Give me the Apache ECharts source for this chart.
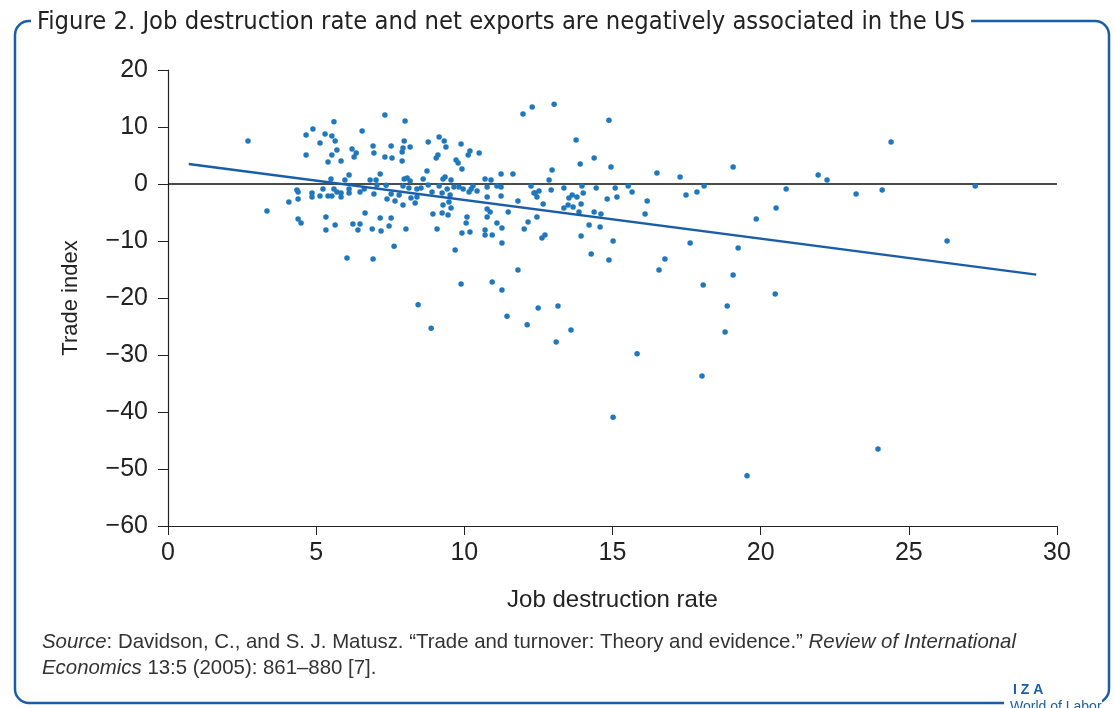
<!DOCTYPE html>
<html lang="en">
<head>
    <meta charset="UTF-8">
    <title>Job destruction rate and net exports</title>
    <script src="https://cdn.jsdelivr.net/npm/echarts@6/dist/echarts.min.js"></script>
    <style>
        html, body { margin: 0; padding: 0; background: #fff; }
    </style>
</head>
<body>
<div id="main" style="width: 1115px;height:708px;"></div>
<script type="text/javascript">
    // job destruction rate (x) and trade index (y)
    var jobRate = [
        2.70, 7.32, 4.89, 5.60, 4.66, 5.30, 5.53, 5.64, 5.13, 6.55,
        4.66, 5.53, 5.70, 5.40, 5.84, 6.21, 6.35, 6.28, 6.92, 6.95,
        7.32, 6.11, 5.97, 5.50, 6.82, 7.02, 7.16, 7.05, 7.36, 4.35,
        4.39, 4.86, 4.86, 5.23, 5.13, 5.40, 5.53, 5.60, 5.70, 5.84,
        5.84, 6.11, 6.11, 6.48, 6.62, 6.95, 7.39, 4.39, 4.08, 3.34,
        4.39, 5.33, 6.65, 7.16,
        8.00, 11.98, 12.29, 7.53, 7.97, 8.17, 7.93, 7.90, 7.56, 7.90,
        8.78, 9.15, 9.32, 9.38, 9.11, 9.05, 9.89, 10.19, 10.13, 10.50,
        9.72, 9.79, 9.92, 8.74, 7.97, 8.07, 8.17, 8.61, 9.28, 9.35,
        9.55, 10.70, 10.90, 11.24, 11.64, 7.93, 8.13, 8.40, 8.54, 8.78,
        9.15, 8.91, 9.42, 9.65, 9.82, 9.96, 10.23, 10.29, 10.16, 10.43,
        10.77, 11.10, 11.24, 12.25, 12.35, 12.52, 9.25, 9.52, 7.53, 7.80,
        7.66, 8.20, 8.40, 8.34, 7.93, 9.28, 9.48, 9.55, 10.77, 11.24,
        10.77, 10.87, 11.48, 11.81, 12.45, 8.94, 9.25, 9.45, 10.09, 10.77,
        12.45, 7.53,
        13.03, 14.88, 13.77, 14.38, 13.91, 14.95, 12.96, 12.86, 16.50, 17.28,
        12.39, 12.93, 13.36, 13.97, 14.01, 14.45, 15.09, 15.53, 15.66, 15.15,
        14.82, 13.53, 13.64, 13.80, 12.66, 13.50, 13.67, 13.36, 13.94, 13.87,
        14.38, 14.61, 16.17, 16.10,
        19.07, 21.94, 22.24, 24.40, 17.48, 17.85, 18.09, 20.86, 23.22, 24.10,
        27.24, 20.52, 19.85, 14.58,
        14.21, 13.94, 15.02, 14.28, 14.88, 17.62, 19.24, 16.77, 16.57, 19.07,
        18.06, 20.49, 18.87, 18.80, 15.83, 18.02, 15.02, 23.96, 19.54, 26.29,
        4.49, 5.33, 5.64, 6.24, 6.48, 6.41, 6.89, 7.19, 7.46, 8.03,
        7.63, 6.04, 6.92, 9.08, 9.92, 10.19, 10.06, 10.70, 10.70, 10.94,
        11.10, 11.27, 11.27, 9.69, 12.02, 12.15, 12.72, 12.62, 11.81, 9.89,
        10.94, 11.27, 8.44, 8.88, 11.44, 12.12, 12.49, 13.16, 13.10, 13.60
    ];
    var tradeIndex = [
        7.54, 12.1, 9.65, 10.9, 8.6, 8.77, 8.42, 7.54, 7.19, 9.30,
        5.09, 5.09, 5.96, 3.86, 4.03, 6.14, 5.44, 4.74, 6.67, 5.44,
        4.74, 1.58, 0.70, 0.88, 0.70, 0.70, 1.75, -0.18, -0.2, -1.05,
        -1.40, -1.58, -2.28, -0.88, -2.10, -2.10, -2.10, -0.88, -1.40, -1.58,
        -2.28, -0.88, -1.58, -1.40, -0.88, -1.75, -2.63, -2.63, -3.16, -4.74,
        -6.14, -5.79, -5.09, -5.96,
        11.05, 12.28, 13.5, 6.67, 7.54, 6.49, 6.31, 5.61, 4.56, 4.03,
        7.37, 8.24, 7.54, 6.49, 5.09, 4.56, 7.02, 5.79, 5.09, 5.44,
        4.21, 3.68, 2.63, 2.28, 0.88, 1.05, 0.53, 0.88, 0.88, 1.23,
        0.70, 0.88, 0.70, 1.75, 1.75, -0.35, -0.70, -0.88, -0.70, -0.18,
        -0.35, -1.40, -0.88, -0.53, -0.53, -0.88, -0.88, -0.35, -1.40, -1.23,
        -0.53, -0.35, -0.53, -0.35, -1.58, -1.23, -1.58, -1.93, -1.75, -1.93,
        -2.98, -2.46, -2.28, -3.33, -3.68, -3.68, -3.16, -4.21, -2.28, -2.10,
        -4.39, -4.91, -4.91, -2.98, -2.28, -5.26, -5.09, -5.44, -5.79, -5.79,
        -5.79, -5.96,
        14.0, 11.2, 7.72, 4.56, 3.51, 2.98, 2.46, 0.70, 1.93, 1.23,
        -1.58, -1.05, -0.70, -0.35, -1.58, -0.70, -0.70, -0.35, -1.40, -2.28,
        -2.63, -2.46, -1.93, -2.28, -3.51, -3.68, -4.03, -4.21, -3.51, -4.91,
        -4.91, -5.26, -2.98, -5.26,
        2.98, 1.58, 0.70, 7.37, -1.93, -1.40, -0.35, -0.88, -1.75, -1.05,
        -0.35, -4.21, -6.14, -7.54,
        -7.19, -9.12, -10.0, -12.28, -13.33, -10.35, -11.23, -13.16, -15.08, -15.96,
        -17.72, -19.29, -21.40, -25.96, -29.8, -33.7, -40.9, -46.5, -51.2, -10.0,
        -6.84, -8.07, -7.19, -7.02, -7.02, -8.07, -7.89, -8.24, -7.37, -7.89,
        -10.9, -12.98, -13.16, -7.89, -8.6, -8.42, -6.84, -8.07, -8.95, -8.95,
        -6.84, -7.72, -10.35, -11.58, -7.89, -6.67, -8.95, -9.47, -15.08, -17.54,
        -17.19, -18.6, -21.2, -25.3, -23.2, -24.7, -21.75, -21.4, -27.7, -25.6
    ];
    // fitted line end points and the zero reference line
    var fitX = [0.7, 29.3];
    var fitY = [3.5, -15.9];
    var zeroX = [0, 30];
    var zeroY = [0, 0];

    var xTicks = [0, 5, 10, 15, 20, 25, 30];
    var yTicks = [-60, -50, -40, -30, -20, -10, 0, 10, 20];

    var Chart = echarts.init(document.getElementById('main'));

    function pairs(xs, ys) {
        return xs.map(function (x, i) { return [x, ys[i]]; });
    }
    function minus(v) {
        return String(v).replace('-', '\u2212');
    }

    var textFont = "'Liberation Sans', Arial, sans-serif";
    var narrowFont = "'Liberation Sans Narrow', 'DejaVu Sans Condensed', sans-serif";
    var frameBlue = '#1b5ea8';

    var option = {
        animation: false,
        backgroundColor: '#fff',
        title: {
            text: 'Figure 2. Job destruction rate and net exports are negatively associated in the US',
            left: 31,
            top: 8,
            padding: [2, 6, 2, 6],
            backgroundColor: '#fff',
            textStyle: {
                fontFamily: narrowFont,
                fontSize: 25.3,
                fontWeight: 'normal',
                color: '#222'
            },
            z: 10
        },
        graphic: [
            {
                type: 'rect',
                z: 0,
                shape: { x: 15, y: 21, width: 1094, height: 682, r: 14 },
                style: { fill: 'none', stroke: frameBlue, lineWidth: 2.5 }
            },
            {
                type: 'text',
                left: 42,
                top: 629,
                style: {
                    text: '{i|Source}: Davidson, C., and S. J. Matusz. \u201cTrade and turnover: Theory and evidence.\u201d {i|Review of International}\n{i|Economics} 13:5 (2005): 861\u2013880 [7].',
                    fontFamily: textFont,
                    fontSize: 20.4,
                    lineHeight: 26,
                    fill: '#333',
                    rich: {
                        i: { fontStyle: 'italic', fontFamily: textFont, fontSize: 20.4, fill: '#333' }
                    }
                }
            },
            {
                type: 'rect',
                z: 5,
                shape: { x: 1004, y: 684, width: 98, height: 24 },
                style: { fill: '#fff' }
            },
            {
                type: 'text',
                z: 6,
                left: 1013,
                top: 683,
                style: {
                    text: 'I Z A',
                    fontFamily: textFont,
                    fontSize: 14,
                    fontWeight: 'bold',
                    fill: frameBlue
                }
            },
            {
                type: 'text',
                z: 6,
                left: 1010,
                top: 700,
                style: {
                    text: 'World of Labor',
                    fontFamily: textFont,
                    fontSize: 14,
                    fill: frameBlue
                }
            }
        ],
        grid: {
            left: 168,
            right: 58,
            top: 70,
            bottom: 182
        },
        xAxis: {
            type: 'value',
            min: xTicks[0],
            max: xTicks[xTicks.length - 1],
            interval: 5,
            name: 'Job destruction rate',
            nameLocation: 'middle',
            nameGap: 62,
            nameTextStyle: { fontFamily: textFont, fontSize: 24, color: '#222' },
            axisLine: { onZero: false, lineStyle: { color: '#222', width: 1.2 } },
            axisTick: { show: true, length: 9, inside: false, lineStyle: { color: '#222' } },
            axisLabel: { fontFamily: textFont, fontSize: 25, color: '#222', margin: 15 },
            splitLine: { show: false }
        },
        yAxis: {
            type: 'value',
            min: yTicks[0],
            max: yTicks[yTicks.length - 1],
            interval: 10,
            name: 'Trade index',
            nameLocation: 'middle',
            nameGap: 86,
            nameTextStyle: { fontFamily: textFont, fontSize: 22, color: '#222' },
            axisLine: { show: true, lineStyle: { color: '#222', width: 1.2 } },
            axisTick: { show: true, length: 10, lineStyle: { color: '#222' } },
            axisLabel: {
                fontFamily: textFont,
                fontSize: 25,
                color: '#222',
                margin: 20,
                formatter: function (v) { return minus(v); }
            },
            splitLine: { show: false }
        },
        series: [
            {
                type: 'line',
                data: pairs(zeroX, zeroY),
                symbol: 'none',
                lineStyle: { color: '#111', width: 1.5 },
                silent: true,
                z: 1
            },
            {
                type: 'scatter',
                data: pairs(jobRate, tradeIndex),
                symbolSize: 5.5,
                itemStyle: { color: '#1f78bd', opacity: 1 },
                z: 3
            },
            {
                type: 'line',
                data: pairs(fitX, fitY),
                symbol: 'none',
                lineStyle: { color: '#1b5ea8', width: 2.5 },
                silent: true,
                z: 4
            }
        ]
    };

    Chart.setOption(option);
</script>
</body>
</html>
